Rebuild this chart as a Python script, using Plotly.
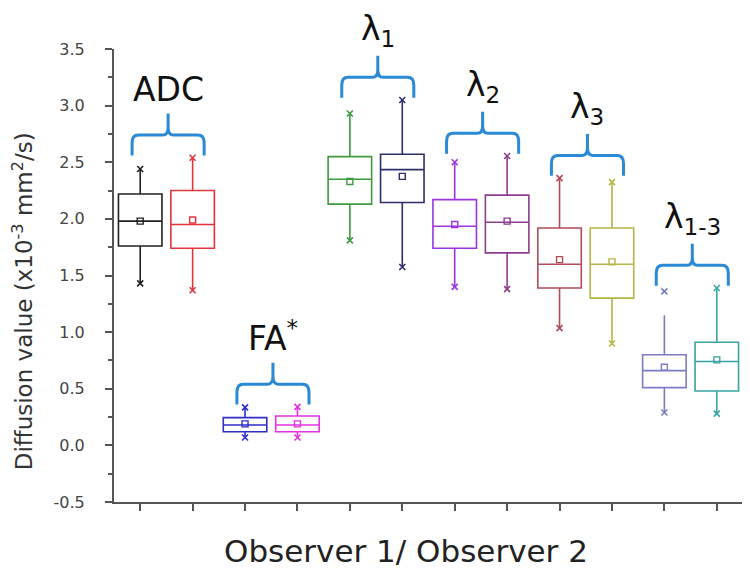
import plotly.graph_objects as go

# ---------------- data ----------------
positions = [1, 2, 3, 4, 5, 6, 7, 8, 9, 10, 11, 12]
group_labels = ["ADC", "FA<sup>*</sup>", "λ<sub>1</sub>", "λ<sub>2</sub>", "λ<sub>3</sub>", "λ<sub>1-3</sub>"]
colors = ["#222222", "#e3343c", "#2e2ec8", "#e232e2", "#3f9a3f", "#2d2d6a",
          "#9b35e0", "#8e3c8c", "#b24a58", "#b5b545", "#7c7cc6", "#3aa3a3"]

q1 = [1.76, 1.74, 0.12, 0.12, 2.13, 2.145, 1.74, 1.70, 1.39, 1.30, 0.51, 0.48]
median = [1.98, 1.95, 0.18, 0.18, 2.35, 2.435, 1.935, 1.97, 1.60, 1.60, 0.66, 0.74]
q3 = [2.22, 2.25, 0.245, 0.26, 2.55, 2.57, 2.17, 2.21, 1.92, 1.92, 0.80, 0.91]
mean = [1.98, 1.99, 0.19, 0.19, 2.33, 2.375, 1.95, 1.98, 1.64, 1.62, 0.69, 0.755]
whisker_low = [1.43, 1.37, 0.07, 0.07, 1.81, 1.575, 1.40, 1.38, 1.035, 0.90, 0.29, 0.28]
whisker_high = [2.44, 2.54, 0.335, 0.34, 2.93, 3.05, 2.50, 2.555, 2.36, 2.325, 1.15, 1.39]
minimum = [1.43, 1.37, 0.07, 0.07, 1.81, 1.575, 1.40, 1.38, 1.035, 0.90, 0.29, 0.28]
maximum = [2.44, 2.54, 0.335, 0.34, 2.93, 3.05, 2.50, 2.555, 2.36, 2.325, 1.36, 1.39]

y_ticks = [-0.5, 0.0, 0.5, 1.0, 1.5, 2.0, 2.5, 3.0, 3.5]
Y_MIN, Y_MAX = -0.5, 3.5

FONT = "DejaVu Sans"
BRACE_COLOR = "#2b8ad6"

fig = go.Figure()

for i, x in enumerate(positions):
    c = colors[i]
    fig.add_trace(go.Box(
        x=[x], q1=[q1[i]], median=[median[i]], q3=[q3[i]],
        lowerfence=[whisker_low[i]], upperfence=[whisker_high[i]],
        width=0.83, whiskerwidth=0, boxpoints=False,
        line=dict(color=c, width=1.6), fillcolor="rgba(255,255,255,0)",
        showlegend=False, hoverinfo="skip",
    ))
    fig.add_trace(go.Scatter(
        x=[x], y=[mean[i]], mode="markers",
        marker=dict(symbol="square-open", size=6, color=c, line=dict(width=1.4, color=c)),
        showlegend=False, hoverinfo="skip",
    ))
    fig.add_trace(go.Scatter(
        x=[x, x], y=[minimum[i], maximum[i]], mode="markers",
        marker=dict(symbol="x-thin", size=6, color=c, line=dict(width=1.6, color=c)),
        showlegend=False, hoverinfo="skip",
    ))


def to_paper_y(v):
    return (v - Y_MIN) / (Y_MAX - Y_MIN)


# braces + labels (computed from the data)
shapes = []
annotations = []
for g, lab in enumerate(group_labels):
    a, b = 2 * g, 2 * g + 1
    xl = positions[a] - 0.155
    xr = positions[b] + 0.22
    xc = (xl + xr) / 2
    yb = max(maximum[a], maximum[b]) + 0.02
    yh = yb + 0.18
    yt = yb + 0.37
    path = (f"M {xl},{yb} L {xl},{yh-0.07} Q {xl},{yh} {xl+0.12},{yh} "
            f"L {xc-0.1},{yh} Q {xc},{yh} {xc},{yh+0.07} L {xc},{yt} "
            f"M {xc},{yh+0.07} Q {xc},{yh} {xc+0.1},{yh} "
            f"L {xr-0.12},{yh} Q {xr},{yh} {xr},{yh-0.07} L {xr},{yb}")
    shapes.append(dict(type="path", path=path, xref="x", yref="y",
                       line=dict(color=BRACE_COLOR, width=3)))
    annotations.append(dict(x=xc, y=to_paper_y(yt + 0.02), xref="x", yref="paper", text=lab,
                            showarrow=False, yanchor="bottom", xanchor="center",
                            font=dict(family=FONT, size=33, color="#111111")))

annotations.append(dict(x=0.4645, y=-0.109, xref="paper", yref="paper",
                        text="Observer 1/ Observer 2", showarrow=False,
                        xanchor="center", yanchor="middle",
                        font=dict(family=FONT, size=31, color="#222222")))
annotations.append(dict(x=-0.1447, y=0.443, xref="paper", yref="paper",
                        text="Diffusion value (x10<sup>-3</sup> mm<sup>2</sup>/s)",
                        showarrow=False, textangle=-90,
                        xanchor="center", yanchor="middle",
                        font=dict(family=FONT, size=23, color="#333333")))

fig.update_layout(
    width=750, height=579, autosize=False,
    margin=dict(l=106, r=15, t=41, b=85),
    paper_bgcolor="white", plot_bgcolor="white",
    shapes=shapes, annotations=annotations,
    boxmode="overlay",
    xaxis=dict(range=[0.5, 12.5], tickvals=positions, ticktext=[""] * len(positions),
               ticks="outside", ticklen=7, tickwidth=1.5, tickcolor="#555555",
               showline=True, linecolor="#555555", linewidth=2,
               showgrid=False, zeroline=False, fixedrange=True),
    yaxis=dict(range=[Y_MIN, Y_MAX], tickvals=y_ticks,
               ticktext=[f"{v:.1f}" for v in y_ticks],
               ticks="outside", ticklen=7, tickwidth=1.5, tickcolor="#555555",
               ticklabelstandoff=17,
               tickfont=dict(family=FONT, size=16, color="#444444"),
               minor=dict(dtick=0.25, tick0=-0.5, ticks="outside", ticklen=4,
                          tickwidth=1.5, tickcolor="#555555", showgrid=False),
               showline=True, linecolor="#555555", linewidth=2,
               showgrid=False, zeroline=False, fixedrange=True),
)

fig.write_html("out.html")
